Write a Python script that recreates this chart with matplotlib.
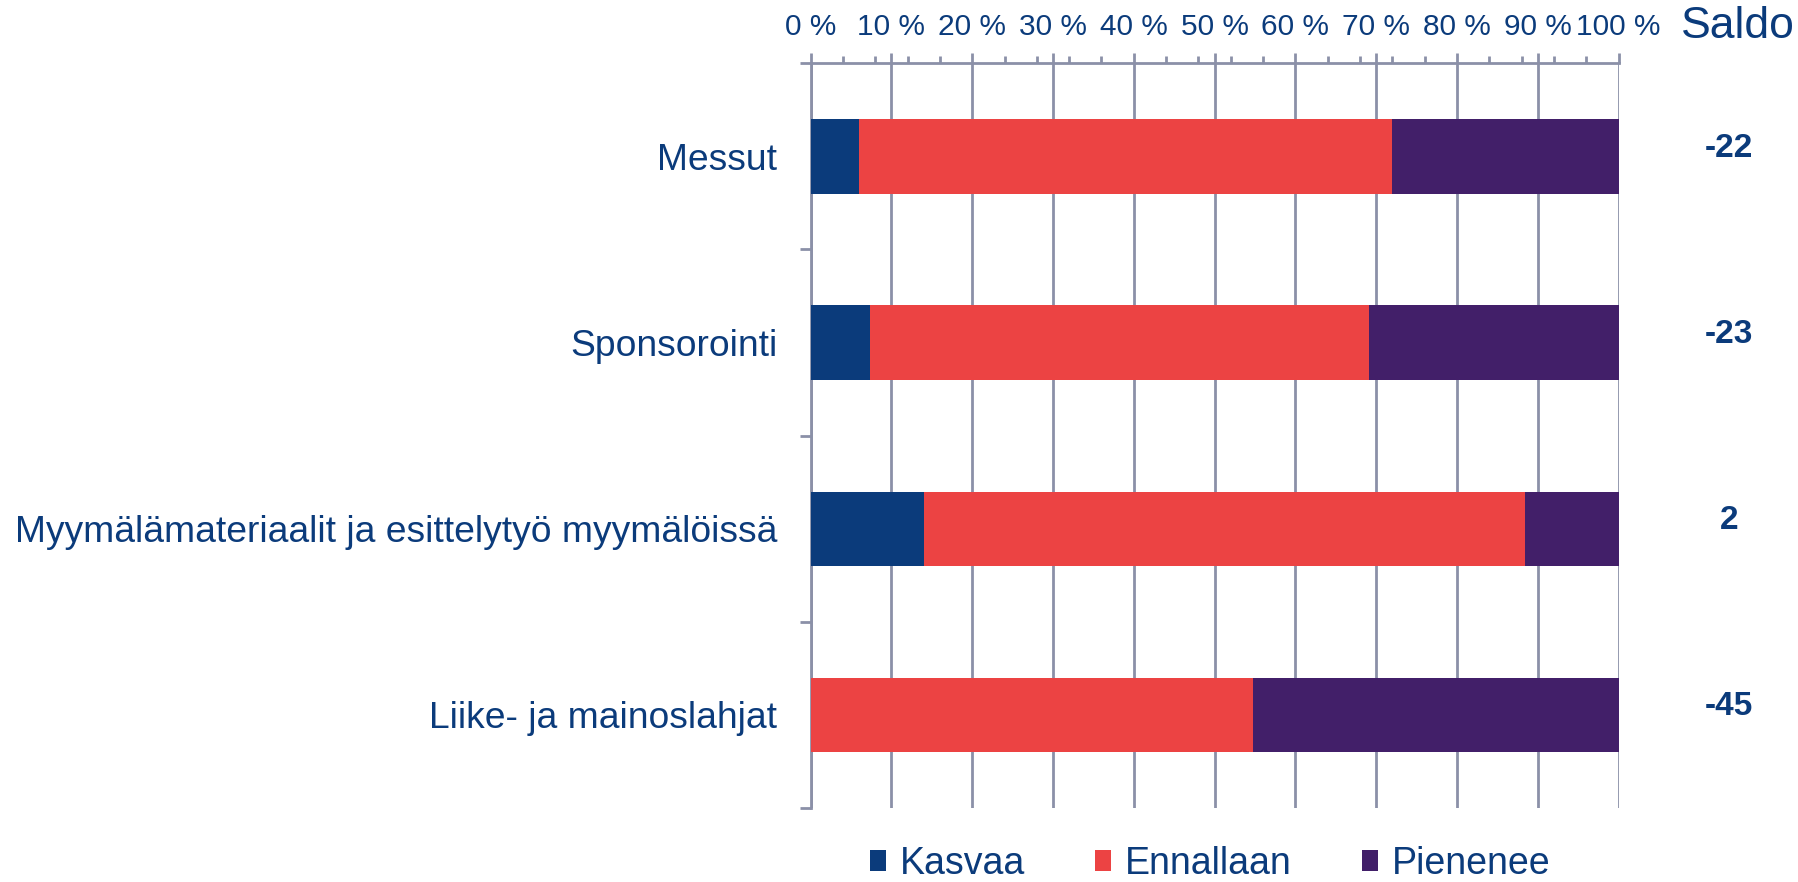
import matplotlib
matplotlib.use("Agg")
import matplotlib.pyplot as plt
from matplotlib.patches import Patch
from matplotlib.ticker import MultipleLocator, FixedLocator
import matplotlib.transforms as mtransforms

plt.rcParams['font.family'] = ['Liberation Sans', 'DejaVu Sans']

categories = ["Messut", "Sponsorointi",
              "Myymälämateriaalit ja esittelytyö myymälöissä",
              "Liike- ja mainoslahjat"]
kasvaa = [6.0, 7.3, 14.0, 0.0]
ennallaan = [66.0, 61.8, 74.4, 54.8]
pienenee = [28.0, 30.9, 11.6, 45.2]
saldo = [-22, -23, 2, -45]
series_names = ["Kasvaa", "Ennallaan", "Pienenee"]
xtick_values = list(range(0, 101, 10))
xtick_labels = [f"{v} %" for v in xtick_values]

TEXT = "#0B3B7B"
GRID = "#8B90A8"
colors = ["#0B3B7B", "#EC4343", "#421F69"]

fig = plt.figure(figsize=(17.98, 8.82), dpi=100)
ax = fig.add_axes([810.6 / 1798, 1 - 808 / 882, 808 / 1798, (808 - 63.3) / 882])

y = list(range(len(categories)))
left = [0.0] * len(categories)
for vals, c, name in zip([kasvaa, ennallaan, pienenee], colors, series_names):
    ax.barh(y, vals, left=left, height=0.40, color=c, label=name, zorder=3,
            edgecolor='none')
    left = [l + v for l, v in zip(left, vals)]

ax.set_xlim(0, 100)
ax.set_ylim(len(categories) - 0.5, -0.5)

# x axis on top
ax.xaxis.tick_top()
ax.xaxis.set_major_locator(FixedLocator(xtick_values))
ax.set_xticklabels(xtick_labels)
ax.xaxis.set_minor_locator(MultipleLocator(4))
ax.tick_params(axis='x', which='major', direction='out', length=7, width=2,
               color=GRID, labelsize=21.5, labelcolor=TEXT, pad=9)
ax.tick_params(axis='x', which='minor', direction='out', length=5, width=2,
               color=GRID)
ax.grid(axis='x', which='major', color=GRID, linewidth=2, zorder=1)

# y axis: category labels with ticks at band boundaries
ax.set_yticks(y)
ax.set_yticklabels(categories)
ax.yaxis.set_minor_locator(FixedLocator([i - 0.5 for i in range(len(categories) + 1)]))
ax.tick_params(axis='y', which='major', length=0, labelsize=26.8,
               labelcolor=TEXT, pad=24)
ax.tick_params(axis='y', which='minor', direction='out', length=8, width=2,
               color=GRID)

for side in ['right', 'bottom']:
    ax.spines[side].set_visible(False)
for side in ['left', 'top']:
    ax.spines[side].set_color(GRID)
    ax.spines[side].set_linewidth(2)

# Saldo column
fig.text(1737.5 / 1798, 1 - 27 / 882, "Saldo", fontsize=32, color=TEXT,
         ha='center', va='center')
trans = mtransforms.blended_transform_factory(fig.transFigure, ax.transData)
for yi, s in zip(y, saldo):
    ax.annotate(f"{s}", xy=(1729 / 1798, yi), xycoords=trans,
                xytext=(0, 6), textcoords='offset points',
                ha='center', va='center', fontsize=24, fontweight='bold',
                color=TEXT, annotation_clip=False)

handles = [Patch(facecolor=c, edgecolor='none', label=n)
           for c, n in zip(colors, series_names)]
leg = fig.legend(handles=handles, loc='center', ncol=3,
                 bbox_to_anchor=(1210 / 1798, 1 - 864 / 882), frameon=False,
                 fontsize=27, handlelength=0.44, handleheight=0.46,
                 handletextpad=0.36, columnspacing=1.87, borderpad=0)
for t in leg.get_texts():
    t.set_color(TEXT)

fig.savefig("out.png", dpi=100)
